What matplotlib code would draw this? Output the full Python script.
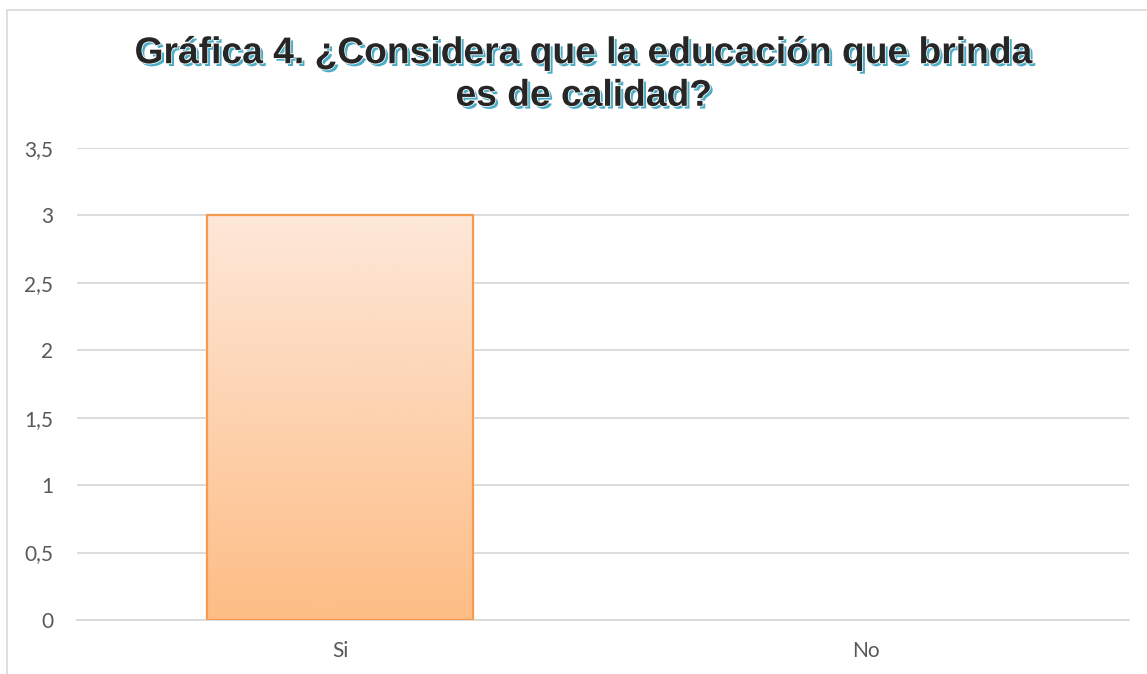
import matplotlib
matplotlib.use("Agg")
import matplotlib.pyplot as plt
import matplotlib.patheffects as pe
from matplotlib.patches import Rectangle
from matplotlib.colors import LinearSegmentedColormap
import numpy as np

categories = ["Si", "No"]
values = [3, 0]
yticks = [0, 0.5, 1, 1.5, 2, 2.5, 3, 3.5]
yticklabels = ["0", "0,5", "1", "1,5", "2", "2,5", "3", "3,5"]
title = "Gráfica 4. ¿Considera que la educación que brinda\nes de calidad?"

fig = plt.figure(figsize=(11.47, 6.74), dpi=100)
ax = fig.add_axes([77/1147, 1-620/674, (1129-77)/1147, (620-148)/674])

x = np.arange(len(categories))
bars = ax.bar(x, values, width=0.504, color="none", edgecolor="#F59A4E", linewidth=1.6, zorder=3)

grad = np.linspace(0, 1, 256).reshape(-1, 1)
cmap = LinearSegmentedColormap.from_list("g", ["#FDBD85", "#FDE8D9"])
for b in bars:
    if b.get_height() <= 0:
        b.set_linewidth(0)
        continue
    x0, y0 = b.get_x(), b.get_y()
    w, h = b.get_width(), b.get_height()
    im = ax.imshow(grad, extent=[x0, x0 + w, y0, y0 + h], origin="lower", cmap=cmap,
                   aspect="auto", zorder=2)
    clip = Rectangle((x0, y0), w, h, transform=ax.transData)
    im.set_clip_path(clip)

ax.set_xlim(-0.5, 1.5)
ax.set_ylim(0, 3.5)
ax.set_yticks(yticks)
ax.set_yticklabels(yticklabels)
ax.set_xticks(x)
ax.set_xticklabels(categories)
ax.grid(axis="y", color="#D9D9D9", linewidth=1.3, zorder=0)
ax.set_axisbelow(True)
for s in ["top", "right", "left"]:
    ax.spines[s].set_visible(False)
ax.spines["bottom"].set_color("#D9D9D9")
ax.spines["bottom"].set_linewidth(1.3)
ax.tick_params(axis="both", length=0, labelsize=15, labelcolor="#595959")
ax.tick_params(axis="y", pad=17)
ax.tick_params(axis="x", pad=15)
for lab in ax.get_xticklabels() + ax.get_yticklabels():
    lab.set_fontfamily("Lato")

fig.text(584/1147, 1 - 75/674, title, ha="center", va="center", fontsize=26.8, fontweight="bold",
         family="Liberation Sans", color="#262626", linespacing=1.28,
         path_effects=[pe.SimplePatchShadow(offset=(2, -2), shadow_rgbFace="#4BACC6", alpha=1),
                       pe.Stroke(linewidth=1.2, foreground="white"), pe.Normal()])

fig.patches.append(Rectangle((7/1147, -0.01), 1.1, 1 - 10/674 + 0.01, transform=fig.transFigure,
                             fill=False, edgecolor="#D9D9D9", linewidth=1.2))

fig.savefig("out.png", dpi=100)
